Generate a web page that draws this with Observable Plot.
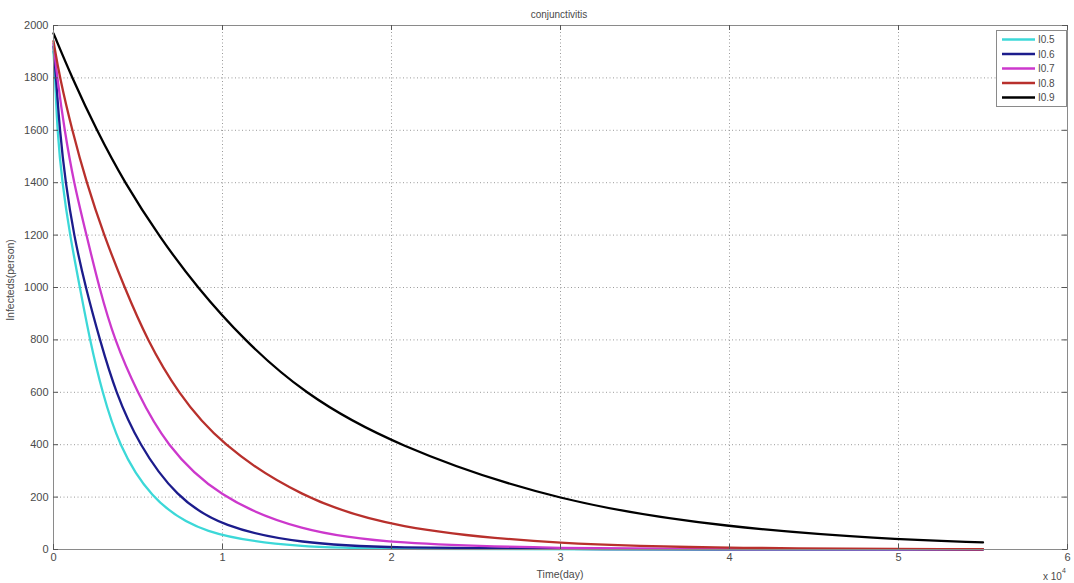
<!DOCTYPE html>
<html><head><meta charset="utf-8">
<script src="https://cdn.jsdelivr.net/npm/d3@7"></script>
<script src="https://cdn.jsdelivr.net/npm/@observablehq/plot@0.6"></script>
<style>body{margin:0;background:#fff;overflow:hidden}</style>
</head><body><div id="chart"></div>
<script>
const titleText = "conjunctivitis";
const xLabel = "Time(day)";
const yLabel = "Infecteds(person)";
const seriesNames = ["I0.5", "I0.6", "I0.7", "I0.8", "I0.9"];
const seriesColors = ["#3cd8d8", "#1c1c8c", "#cc38cc", "#b8302c", "#000000"];

const tI05 = [0, 100, 220, 510, 970, 1560, 2150, 2880, 3850, 5650, 8700, 14600, 20000, 30000, 55000];
const vI05 = [1900, 1800, 1600, 1400, 1200, 1000, 800, 600, 400, 200, 55, 8, 2, 0.3, 0];
const tI06 = [0, 150, 370, 710, 1200, 1900, 2740, 3670, 5050, 7250, 10000, 14600, 20000, 30000, 55000];
const vI06 = [1920, 1800, 1600, 1400, 1200, 1000, 800, 600, 400, 200, 85, 23, 6, 1, 0];
const tI07 = [0, 220, 650, 1200, 1950, 2700, 3600, 4950, 6630, 9700, 14600, 20000, 30000, 40000, 55000];
const vI07 = [1930, 1800, 1600, 1400, 1200, 1000, 800, 600, 400, 200, 70, 22, 4, 1, 0.5];
const tI08 = [0, 370, 1100, 1950, 2980, 4200, 5540, 7320, 9880, 14600, 20000, 30000, 40000, 55000];
const vI08 = [1940, 1800, 1600, 1400, 1200, 1000, 800, 600, 400, 200, 80, 18, 5, 1];
const tI09 = [0, 1100, 2550, 4200, 6300, 8500, 11260, 14700, 20000, 30000, 40000, 49000, 55000];
const vI09 = [1970, 1800, 1600, 1400, 1190, 1000, 800, 600, 400, 177, 83, 41, 27];

const xTicks = [0, 10000, 20000, 30000, 40000, 50000, 60000];
const yTicks = [0, 200, 400, 600, 800, 1000, 1200, 1400, 1600, 1800, 2000];

const seriesT = [tI05, tI06, tI07, tI08, tI09];
const seriesV = [vI05, vI06, vI07, vI08, vI09];
const table = [];
seriesNames.forEach((name, i) => {
  seriesT[i].forEach((t, j) => table.push({series: name, t, v: seriesV[i][j]}));
});

const W = 1074, H = 583;
const mL = 53, mR = 7, mT = 25, mB = 34;
const pw = W - mL - mR, ph = H - mT - mB;
const textColor = "#4a4a4a";

const chart = Plot.plot({
  width: W, height: H,
  marginLeft: mL, marginRight: mR, marginTop: mT, marginBottom: mB,
  style: {fontFamily: "Liberation Sans, Arial, sans-serif", fontSize: "11px", color: textColor, background: "#fff"},
  x: {domain: [0, 60000]},
  y: {domain: [0, 2000]},
  color: {domain: seriesNames, range: seriesColors},
  marks: [
    Plot.ruleX(xTicks.slice(1, -1), {x: d => d, stroke: "#9a9a9a", strokeDasharray: "1,2.5", strokeWidth: 1}),
    Plot.ruleY(yTicks.slice(1, -1), {y: d => d, stroke: "#9a9a9a", strokeDasharray: "1,2.5", strokeWidth: 1}),
    Plot.line(table, {x: "t", y: "v", z: "series", stroke: "series", curve: "basis", strokeWidth: 2.3}),
    Plot.frame({stroke: "#8a8a8a"}),
    Plot.tickY(yTicks, {y: d => d, insetRight: pw - 5, stroke: "#555"}),
    Plot.tickY(yTicks, {y: d => d, insetLeft: pw - 5, stroke: "#555"}),
    Plot.tickX(xTicks, {x: d => d, insetTop: ph - 5, stroke: "#555"}),
    Plot.tickX(xTicks, {x: d => d, insetBottom: ph - 5, stroke: "#555"}),
    Plot.axisY({ticks: yTicks, tickFormat: d => String(d), tickSize: 0, tickPadding: 5, label: null}),
    Plot.axisX({ticks: xTicks, tickFormat: d => String(d / 1e4), tickSize: 0, tickPadding: 4, label: null})
  ]
});

document.getElementById("chart").appendChild(chart);
const svg = d3.select(chart);
const font = "Liberation Sans, Arial, sans-serif";

svg.append("text").attr("x", 559).attr("y", 18).attr("text-anchor", "middle")
  .attr("font-family", font).attr("font-size", 10).attr("fill", textColor).text(titleText);
svg.append("text").attr("x", 560).attr("y", 578).attr("text-anchor", "middle")
  .attr("font-family", font).attr("font-size", 10.5).attr("fill", textColor).text(xLabel);
svg.append("text").attr("transform", "translate(14,280) rotate(-90)").attr("text-anchor", "middle")
  .attr("font-family", font).attr("font-size", 10.5).attr("fill", textColor).text(yLabel);
const sci = svg.append("text").attr("x", 1043).attr("y", 580).attr("text-anchor", "start")
  .attr("font-family", font).attr("font-size", 10).attr("fill", textColor);
sci.append("tspan").text("x 10");
sci.append("tspan").attr("dy", -7).attr("font-size", 7).text("4");

const lg = svg.append("g");
lg.append("rect").attr("x", 996.5).attr("y", 30.5).attr("width", 70).attr("height", 76)
  .attr("fill", "#fff").attr("stroke", "#8a8a8a");
seriesNames.forEach((name, i) => {
  const y = 39.5 + i * 14.5;
  lg.append("line").attr("x1", 1002).attr("x2", 1035).attr("y1", y).attr("y2", y)
    .attr("stroke", seriesColors[i]).attr("stroke-width", 2.3);
  lg.append("text").attr("x", 1038).attr("y", y).attr("dy", "0.35em").attr("text-anchor", "start")
    .attr("font-family", font).attr("font-size", 10).attr("fill", textColor).text(name);
});
</script></body></html>
